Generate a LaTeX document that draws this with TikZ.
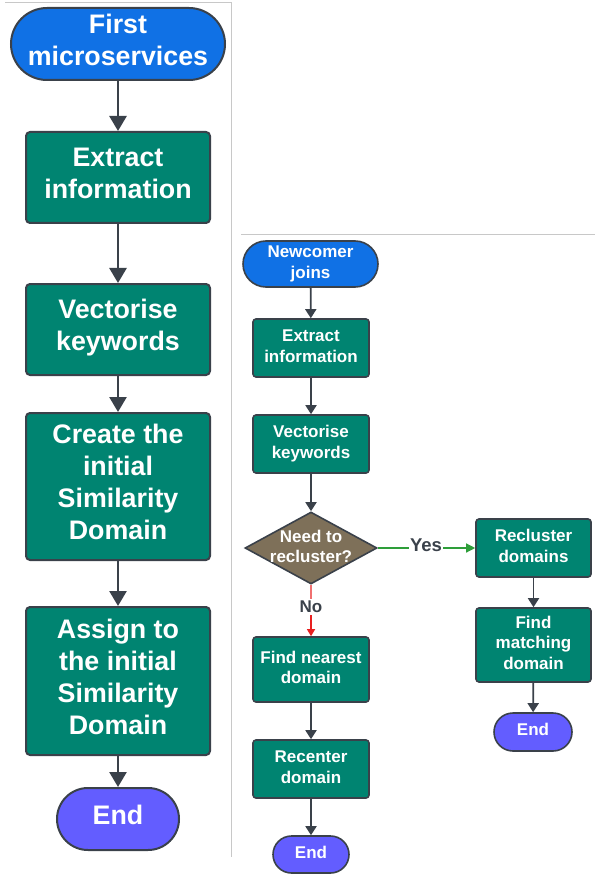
\documentclass[tikz,border=0pt]{standalone}
\usepackage{fontspec}
\setmainfont{Liberation Sans}
\usetikzlibrary{shapes.geometric,arrows.meta}
\definecolor{cblue}{HTML}{1071E5}
\definecolor{cgreen}{HTML}{008471}
\definecolor{cpurple}{HTML}{635DFF}
\definecolor{cbrown}{HTML}{7E7059}
\definecolor{cedge}{HTML}{3A414A}
\definecolor{cgrey}{HTML}{C8C8C8}
\definecolor{cyes}{HTML}{2E9E3A}
\definecolor{cnolight}{HTML}{F07070}
\definecolor{cno}{HTML}{E82020}
% struts that lift the text block slightly, as in the reference
\newcommand\topst{\rule{0pt}{0.76em}}
\newcommand\botbig{\rule[-0.38em]{0pt}{0.38em}}
\newcommand\botsml{\rule[-0.3em]{0pt}{0.3em}}
\tikzset{
  bigfont/.style={font=\bfseries\fontsize{26.8}{32}\selectfont},
  smallfont/.style={font=\bfseries\fontsize{17}{20.3}\selectfont},
  base/.style={draw=cedge, text=white, align=center, inner sep=0pt},
  bigproc/.style={base, bigfont, rectangle, rounded corners=4pt, fill=cgreen, line width=2pt, minimum width=184pt},
  smallproc/.style={base, smallfont, rectangle, rounded corners=3pt, fill=cgreen, line width=1.6pt, minimum width=116pt},
  bigterm/.style={base, bigfont, rectangle, line width=2pt},
  smallterm/.style={base, smallfont, rectangle, line width=1.6pt},
  bigarrow/.style={draw=cedge, line width=2.6pt, -{Triangle[width=17pt,length=15pt]}},
  smallarrow/.style={draw=cedge, line width=1.8pt, -{Triangle[width=11pt,length=9pt]}},
  sep/.style={draw=cgrey, line width=0.8pt},
}
\begin{document}
\begin{tikzpicture}[x=1pt,y=-1pt]
\useasboundingbox (0,0) rectangle (595,874);
% separators
\coordinate (s1) at (5,2);
\coordinate (s2) at (231,2);
\coordinate (s3) at (231,857);
\coordinate (s4) at (241,234);
\coordinate (s5) at (595,234);
\draw[sep] (s1) -- (s2) -- (s3);
\draw[sep] (s4) -- (s5);
% left column
\node[bigterm, fill=cblue, minimum width=214pt, minimum height=72pt, rounded corners=36pt] (L1) at (118,44) {\topst First\\microservices\botbig};
\node[bigproc, minimum height=91pt] (L2) at (118,177.5) {\topst Extract\\information\botbig};
\node[bigproc, minimum height=91pt] (L3) at (118,329.5) {\topst Vectorise\\keywords\botbig};
\node[bigproc, minimum height=147pt] (L4) at (118,486.5) {\topst Create the\\initial\\Similarity\\Domain\botbig};
\node[bigproc, minimum height=148pt] (L5) at (118,681) {\topst Assign to\\the initial\\Similarity\\Domain\botbig};
\node[bigterm, fill=cpurple, minimum width=122pt, minimum height=62pt, rounded corners=31pt] (L6) at (118,819) {\topst End\botbig};
\draw[bigarrow] (L1) -- (L2);
\draw[bigarrow] (L2) -- (L3);
\draw[bigarrow] (L3) -- (L4);
\draw[bigarrow] (L4) -- (L5);
\draw[bigarrow] (L5) -- (L6);
% right column
\node[smallterm, fill=cblue, minimum width=135pt, minimum height=46pt, rounded corners=23pt] (R1) at (310.5,264) {\topst Newcomer\\joins\botsml};
\node[smallproc, minimum height=58pt] (R2) at (311,348) {\topst Extract\\information\botsml};
\node[smallproc, minimum height=58pt] (R3) at (311,444) {\topst Vectorise\\keywords\botsml};
\node[diamond, draw=cedge, fill=cbrown, line width=1.6pt, minimum width=132pt, minimum height=72pt, inner sep=0pt] (R4) at (311,548) {};
\node[smallfont, text=white, align=center, inner sep=0pt] (R4t) at (311,546.5) {Need to\\recluster?};
\node[smallproc, minimum width=115pt, minimum height=58pt] (R5) at (533.5,548) {\topst Recluster\\domains\botsml};
\node[smallproc, minimum width=115pt, minimum height=74pt] (R6) at (533.5,645) {\topst Find\\matching\\domain\botsml};
\node[smallterm, fill=cpurple, minimum width=78pt, minimum height=38pt, rounded corners=19pt] (R7) at (533,732) {\topst End\botsml};
\node[smallproc, minimum height=65pt] (R8) at (311,669.5) {\topst Find nearest\\domain\botsml};
\node[smallproc, minimum height=58pt] (R9) at (311,769) {\topst Recenter\\domain\botsml};
\node[smallterm, fill=cpurple, minimum width=76pt, minimum height=37pt, rounded corners=18.5pt] (R10) at (311,854.5) {\topst End\botsml};
\draw[smallarrow] (R1) -- (R2);
\draw[smallarrow] (R2) -- (R3);
\draw[smallarrow] (R3) -- (R4);
% yes branch
\node[font=\bfseries\fontsize{18.5}{20}\selectfont, text=cedge, inner sep=1pt] (yes) at (426,545) {Yes};
\draw[cyes, line width=1.3pt] (R4.east) -- (yes.west |- R4.east);
\draw[cyes, line width=1.3pt, -{Triangle[width=9pt,length=9pt]}] (yes.east |- R4.east) -- (R5.west);
% no branch
\node[font=\bfseries\fontsize{17}{20}\selectfont, text=cedge, inner sep=2pt] (no) at (311,607) {No};
\draw[cnolight, line width=1.3pt] (R4.south) -- (no.north);
\draw[cno, line width=1.3pt, -{Triangle[width=8pt,length=7pt]}] (no.south) -- (R8.north);
\draw[smallarrow] (R5) -- (R6);
\draw[smallarrow] (R6) -- (R7);
\draw[smallarrow] (R8) -- (R9);
\draw[smallarrow] (R9) -- (R10);
\end{tikzpicture}
\end{document}
